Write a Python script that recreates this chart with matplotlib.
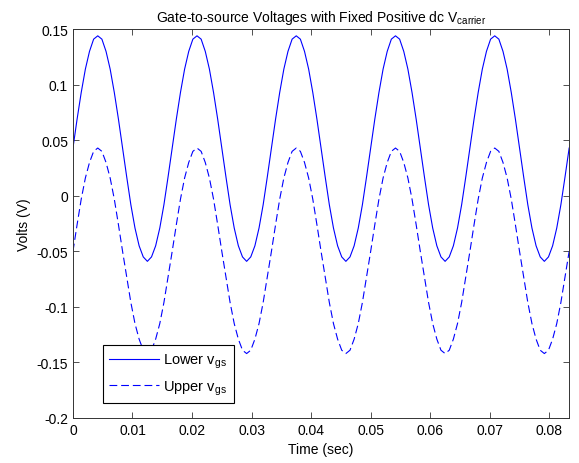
import matplotlib
matplotlib.use("Agg")
import matplotlib.pyplot as plt

plt.rcParams['font.family'] = ['Liberation Sans', 'DejaVu Sans']
plt.rcParams['mathtext.fontset'] = 'custom'
plt.rcParams['mathtext.rm'] = 'Liberation Sans'
plt.rcParams['mathtext.it'] = 'Liberation Sans'

# time samples (sec), 1/1440 s apart
time = [k / 1440 for k in range(121)]

# one period, written out for all five periods
lower_vgs = [
    0.043, 0.069, 0.093, 0.114, 0.130, 0.141, 0.144, 0.141, 0.130, 0.114, 0.093, 0.069,
    0.043, 0.017, -0.008, -0.029, -0.045, -0.055, -0.059, -0.055, -0.045, -0.029, -0.008, 0.017,
    0.043, 0.069, 0.093, 0.114, 0.130, 0.141, 0.144, 0.141, 0.130, 0.114, 0.093, 0.069,
    0.043, 0.017, -0.008, -0.029, -0.045, -0.055, -0.059, -0.055, -0.045, -0.029, -0.008, 0.017,
    0.043, 0.069, 0.093, 0.114, 0.130, 0.141, 0.144, 0.141, 0.130, 0.114, 0.093, 0.069,
    0.043, 0.017, -0.008, -0.029, -0.045, -0.055, -0.059, -0.055, -0.045, -0.029, -0.008, 0.017,
    0.043, 0.069, 0.093, 0.114, 0.130, 0.141, 0.144, 0.141, 0.130, 0.114, 0.093, 0.069,
    0.043, 0.017, -0.008, -0.029, -0.045, -0.055, -0.059, -0.055, -0.045, -0.029, -0.008, 0.017,
    0.043, 0.069, 0.093, 0.114, 0.130, 0.141, 0.144, 0.141, 0.130, 0.114, 0.093, 0.069,
    0.043, 0.017, -0.008, -0.029, -0.045, -0.055, -0.059, -0.055, -0.045, -0.029, -0.008, 0.017,
    0.043,
]
upper_vgs = [
    -0.050, -0.026, -0.003, 0.016, 0.030, 0.040, 0.043, 0.040, 0.030, 0.016, -0.003, -0.026,
    -0.050, -0.073, -0.096, -0.115, -0.129, -0.139, -0.142, -0.139, -0.129, -0.115, -0.096, -0.073,
    -0.050, -0.026, -0.003, 0.016, 0.030, 0.040, 0.043, 0.040, 0.030, 0.016, -0.003, -0.026,
    -0.050, -0.073, -0.096, -0.115, -0.129, -0.139, -0.142, -0.139, -0.129, -0.115, -0.096, -0.073,
    -0.050, -0.026, -0.003, 0.016, 0.030, 0.040, 0.043, 0.040, 0.030, 0.016, -0.003, -0.026,
    -0.050, -0.073, -0.096, -0.115, -0.129, -0.139, -0.142, -0.139, -0.129, -0.115, -0.096, -0.073,
    -0.050, -0.026, -0.003, 0.016, 0.030, 0.040, 0.043, 0.040, 0.030, 0.016, -0.003, -0.026,
    -0.050, -0.073, -0.096, -0.115, -0.129, -0.139, -0.142, -0.139, -0.129, -0.115, -0.096, -0.073,
    -0.050, -0.026, -0.003, 0.016, 0.030, 0.040, 0.043, 0.040, 0.030, 0.016, -0.003, -0.026,
    -0.050, -0.073, -0.096, -0.115, -0.129, -0.139, -0.142, -0.139, -0.129, -0.115, -0.096, -0.073,
    -0.050,
]

xticks = [0, 0.01, 0.02, 0.03, 0.04, 0.05, 0.06, 0.07, 0.08]
xticklabels = ['0', '0.01', '0.02', '0.03', '0.04', '0.05', '0.06', '0.07', '0.08']
yticks = [-0.2, -0.15, -0.1, -0.05, 0, 0.05, 0.1, 0.15]
yticklabels = ['-0.2', '-0.15', '-0.1', '-0.05', '0', '0.05', '0.1', '0.15']

fig = plt.figure(figsize=(5.79, 4.64), dpi=100)
ax = fig.add_axes([0.126, 0.097, 0.857, 0.838])

ax.plot(time, lower_vgs, color='b', lw=0.8, label=r'Lower v$_{\mathrm{gs}}$')
ax.plot(time, upper_vgs, color='b', lw=0.8, dashes=(7, 3.5), label=r'Upper v$_{\mathrm{gs}}$')

ax.set_xlim(0, 5 / 60)
ax.set_ylim(-0.2, 0.15)
ax.set_xticks(xticks)
ax.set_xticklabels(xticklabels)
ax.set_yticks(yticks)
ax.set_yticklabels(yticklabels)
ax.tick_params(direction='in', top=True, right=True, length=4, width=0.6,
               labelsize=10, color='#333333')
for sp in ax.spines.values():
    sp.set_linewidth(0.7)
    sp.set_color('#333333')

ax.set_xlabel('Time (sec)', fontsize=10)
ax.set_ylabel('Volts (V)', fontsize=10)
ax.set_title(r'Gate-to-source Voltages with Fixed Positive dc V$_{\mathrm{carrier}}$',
             fontsize=10, pad=6)

leg = ax.legend(loc='lower left', bbox_to_anchor=(0.06, 0.038), fancybox=False,
                edgecolor='black', framealpha=1, fontsize=10.5, handlelength=3.4,
                borderpad=0.45, labelspacing=0.55, handletextpad=0.3, borderaxespad=0)
leg.get_frame().set_linewidth(0.8)

fig.savefig('out.png', dpi=100)
